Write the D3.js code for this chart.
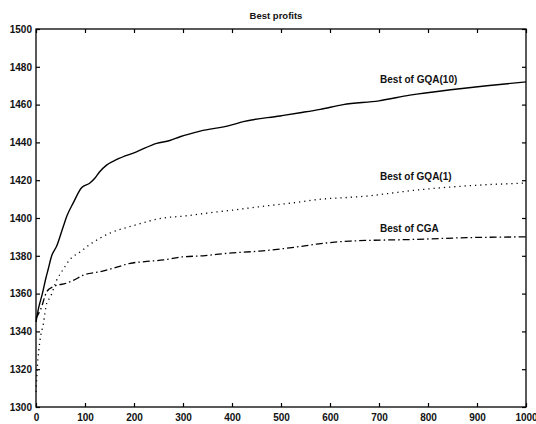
<!DOCTYPE html>
<html>
<head>
<meta charset="utf-8">
<script src="https://cdn.jsdelivr.net/npm/d3@7"></script>
<style>
  html, body { margin: 0; padding: 0; background: #fff; }
  svg { display: block; }
  text { font-family: "Liberation Sans", Arial, Helvetica, sans-serif; font-weight: bold; fill: #111; }
</style>
</head>
<body>
<svg id="chart" width="536" height="424"></svg>
<script>
// ---- data ----
const title = "Best profits";
const xTicks = [0, 100, 200, 300, 400, 500, 600, 700, 800, 900, 1000];
const yTicks = [1300, 1320, 1340, 1360, 1380, 1400, 1420, 1440, 1460, 1480, 1500];

const gqa10X = [0, 5, 13, 20, 25, 32, 42, 55, 63, 76, 93, 110, 120, 130, 144, 165, 205, 246, 273, 294, 335, 396, 423, 498, 539, 580, 627, 700, 763, 851, 920, 1000];
const gqa10Y = [1345, 1352, 1360, 1368, 1373, 1380, 1385, 1395, 1401, 1408, 1416, 1418.5, 1421, 1424.5, 1428, 1431, 1435, 1439.5, 1441, 1443, 1446, 1449, 1451, 1454, 1455.7, 1457.5, 1460, 1462, 1465, 1468, 1470, 1472];

const gqa1X = [0, 3, 8, 15, 22, 29, 42, 56, 69, 90, 110, 151, 199, 260, 301, 362, 396, 457, 539, 566, 675, 777, 879, 1000];
const gqa1Y = [1308, 1322, 1335, 1344, 1355, 1358, 1367, 1373, 1378, 1382, 1386, 1392, 1396, 1400, 1401, 1403, 1404, 1406, 1408.5, 1409.5, 1411.6, 1414.8, 1417, 1418.5];

const cgaX = [0, 10, 22, 35, 62, 76, 97, 131, 165, 192, 226, 260, 301, 341, 389, 457, 552, 573, 641, 777, 879, 1000];
const cgaY = [1347, 1352, 1361, 1363.7, 1365.5, 1367, 1369.8, 1371.6, 1374, 1376, 1377, 1377.8, 1379.5, 1380, 1381.3, 1382.5, 1385.4, 1386.2, 1387.8, 1388.7, 1389.6, 1390];

const seriesNames = ["Best of GQA(10)", "Best of GQA(1)", "Best of CGA"];
const labelPos = [[781, 1473.5], [775, 1422.2], [762, 1394.2]]; // data coords of label centres

// ---- layout ----
const svg = d3.select("#chart");
const L = 36, R = 526, T = 29, B = 407;
const x = d3.scaleLinear().domain([0, 1000]).range([L, R]);
const y = d3.scaleLinear().domain([1300, 1500]).range([B, T]);

// frame
svg.append("rect").attr("x", L).attr("y", T).attr("width", R - L).attr("height", B - T)
  .attr("fill", "none").attr("stroke", "#000").attr("stroke-width", 1.3);

const tl = 4;
const fmt = d3.format("d");
// axes with inward ticks
const gB = svg.append("g").attr("transform", `translate(0,${B})`)
  .call(d3.axisBottom(x).tickValues(xTicks).tickFormat(fmt).tickSize(-tl).tickPadding(7));
const gT = svg.append("g").attr("transform", `translate(0,${T})`)
  .call(d3.axisTop(x).tickValues(xTicks).tickFormat("").tickSize(-tl));
const gL = svg.append("g").attr("transform", `translate(${L},0)`)
  .call(d3.axisLeft(y).tickValues(yTicks).tickFormat(fmt).tickSize(-tl).tickPadding(4));
const gR = svg.append("g").attr("transform", `translate(${R},0)`)
  .call(d3.axisRight(y).tickValues(yTicks).tickFormat("").tickSize(-tl));
[gB, gT, gL, gR].forEach(g => {
  g.select(".domain").remove();
  g.selectAll("line").attr("stroke", "#000").attr("stroke-width", 1.2);
  g.selectAll("text").style("font-family", '"Liberation Sans", Arial, sans-serif')
    .style("font-weight", "bold").style("font-size", "10px").attr("fill", "#111");
});

// title
svg.append("text").attr("x", (L + R) / 2 - 5).attr("y", 19).attr("text-anchor", "middle")
  .style("font-size", "9.5px").text(title);

// lines
const line = d3.line().x(d => x(d[0])).y(d => y(d[1])).curve(d3.curveMonotoneX);
const seriesData = [
  { xs: gqa10X, ys: gqa10Y, dash: null, w: 1.4 },
  { xs: gqa1X, ys: gqa1Y, dash: "1.2,4", w: 1.3 },
  { xs: cgaX, ys: cgaY, dash: "7,3,1.5,3", w: 1.3 }
];
seriesData.forEach(s => {
  svg.append("path").datum(s.xs.map((v, i) => [v, s.ys[i]]))
    .attr("d", line).attr("fill", "none").attr("stroke", "#000")
    .attr("stroke-width", s.w).attr("stroke-dasharray", s.dash);
});

// labels
seriesNames.forEach((n, i) => {
  svg.append("text").attr("x", x(labelPos[i][0])).attr("y", y(labelPos[i][1]) + 3.5)
    .attr("text-anchor", "middle").style("font-size", "10px").text(n);
});
</script>
</body>
</html>
